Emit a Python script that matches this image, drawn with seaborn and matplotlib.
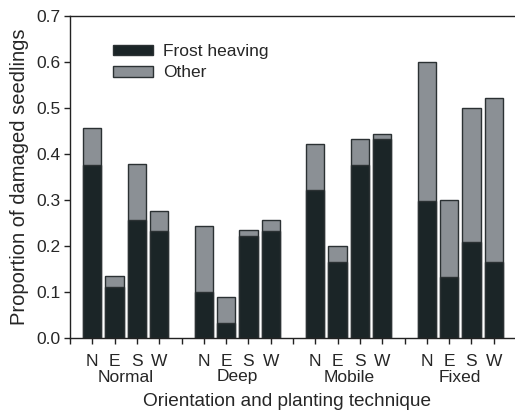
import numpy as np
import pandas as pd
import matplotlib
matplotlib.use('Agg')
import matplotlib.pyplot as plt
import matplotlib.transforms as mtransforms
from matplotlib.patches import Patch
import seaborn as sns

# data
groups = ['Normal', 'Deep', 'Mobile', 'Fixed']
orientations = ['N', 'E', 'S', 'W']
frost = [0.377, 0.110, 0.256, 0.232,
         0.099, 0.033, 0.221, 0.232,
         0.321, 0.166, 0.377, 0.432,
         0.298, 0.133, 0.209, 0.166]
total = [0.456, 0.134, 0.378, 0.277,
         0.244, 0.089, 0.234, 0.256,
         0.422, 0.200, 0.433, 0.444,
         0.600, 0.300, 0.499, 0.521]

DARK = '#1b2527'
GREY = '#8b9095'
EDGE = '#2b3133'

rows = []
for gi, g in enumerate(groups):
    for oi, o in enumerate(orientations):
        k = gi * 4 + oi
        rows.append({'pos': gi * 5 + oi + 1, 'group': g, 'orient': o,
                     'frost': frost[k], 'total': total[k]})
df = pd.DataFrame(rows)

sns.set_theme(style='ticks')
plt.rcParams['font.family'] = ['Liberation Sans', 'DejaVu Sans']

fig = plt.figure(figsize=(5.15, 4.12), dpi=100)
ax = fig.add_axes([70 / 515, 1 - 338 / 412, 1 - 70 / 515 + 0.002, (338 - 16) / 412])

sns.barplot(data=df, x='pos', y='total', native_scale=True, width=0.82,
            color=GREY, saturation=1, edgecolor=EDGE, linewidth=1.0, ax=ax, errorbar=None)
sns.barplot(data=df, x='pos', y='frost', native_scale=True, width=0.82,
            color=DARK, saturation=1, edgecolor=EDGE, linewidth=1.0, ax=ax, errorbar=None)

ax.set_xlim(0, 20)
ax.set_ylim(0, 0.7)
ax.set_yticks(np.arange(0, 0.71, 0.1))
ax.set_yticklabels([f'{v:.1f}' for v in np.arange(0, 0.71, 0.1)], fontsize=12.5)
ax.set_xticks(range(0, 20))
ax.set_xticklabels(['' if i % 5 == 0 else orientations[i % 5 - 1] for i in range(20)], fontsize=12.5)
ax.tick_params(axis='both', direction='out', length=4, width=1, color='#222', pad=3)
ax.tick_params(axis='x', pad=7.5)

for s in ['left', 'bottom', 'top']:
    ax.spines[s].set_visible(True)
    ax.spines[s].set_color('#222')
    ax.spines[s].set_linewidth(1)
ax.spines['right'].set_visible(False)

trans = mtransforms.blended_transform_factory(ax.transData, fig.transFigure)
for gi, g in enumerate(groups):
    ax.text(gi * 5 + 2.5, 1 - 377 / 412, g, transform=trans, ha='center', va='center', fontsize=12.5)

ax.set_xlabel('')
fig.text(287 / 515, 1 - 401 / 412, 'Orientation and planting technique',
         ha='center', va='center', fontsize=13.7)
ax.set_ylabel('Proportion of damaged seedlings', fontsize=14.5, labelpad=5)

handles = [Patch(facecolor=DARK, edgecolor=EDGE, label='Frost heaving'),
           Patch(facecolor=GREY, edgecolor=EDGE, label='Other')]
ax.legend(handles=handles, loc='upper left', bbox_to_anchor=(0.08, 0.935), frameon=False,
          fontsize=12.5, handlelength=2.3, handleheight=0.55, handletextpad=0.6,
          labelspacing=0.38, borderaxespad=0)

fig.savefig('out.png', dpi=100)
